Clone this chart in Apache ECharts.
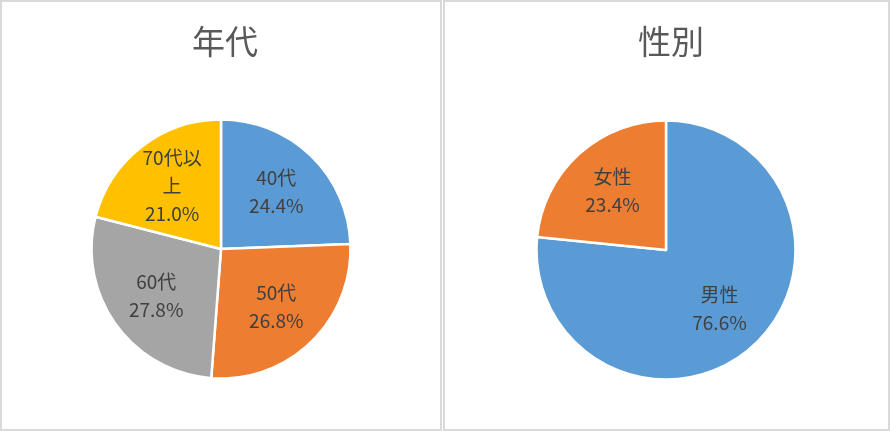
<!DOCTYPE html>
<html><head><meta charset="utf-8">
<script src="https://cdn.jsdelivr.net/npm/echarts@6/dist/echarts.min.js"></script>
<style>html,body{margin:0;padding:0;background:#fff}#c{width:891px;height:433px}</style>
</head><body><div id="c"></div>
<script>
const ageTitle = '年代';
const ageNames = ['40代', '50代', '60代', '70代以上'];
const ageLabels = ['40代', '50代', '60代', '70代以\n上'];
const ageValues = [24.4, 26.8, 27.8, 21.0];
const ageColors = ['#5b9bd5', '#ed7d31', '#a5a5a5', '#ffc000'];

const sexTitle = '性別';
const sexNames = ['男性', '女性'];
const sexLabels = ['男性', '女性'];
const sexValues = [76.6, 23.4];
const sexColors = ['#5b9bd5', '#ed7d31'];

const FONT = '"Noto Sans CJK JP", "Noto Sans", sans-serif';

function mk(names, labels, values, colors) {
  return names.map((n, i) => ({ name: n, value: values[i], lbl: labels[i], itemStyle: { color: colors[i] } }));
}

function pieSeries(data, center) {
  return [
    {
      type: 'pie', center: center, radius: [0, 129.5], startAngle: 90, clockwise: true,
      silent: true, animation: false,
      itemStyle: { borderColor: '#fff', borderWidth: 2.5 },
      label: { show: false }, labelLine: { show: false },
      data: data
    },
    {
      type: 'pie', center: center, radius: [24, 129.5], startAngle: 90, clockwise: true,
      silent: true, animation: false,
      itemStyle: { opacity: 0 },
      label: {
        show: true, position: 'inside', opacity: 1,
        fontFamily: FONT, fontSize: 19, lineHeight: 28, color: '#404040',
        formatter: p => p.data.lbl + '\n' + p.value.toFixed(1) + '%'
      },
      labelLine: { show: false },
      data: data
    }
  ];
}

const chart = echarts.init(document.getElementById('c'), null, { renderer: 'canvas' });
chart.setOption({
  backgroundColor: '#fff',
  title: [
    { text: ageTitle, left: 220, top: 20, textAlign: 'center',
      textStyle: { fontFamily: FONT, fontSize: 33, fontWeight: 'normal', color: '#595959' } },
    { text: sexTitle, left: 666, top: 20, textAlign: 'center',
      textStyle: { fontFamily: FONT, fontSize: 33, fontWeight: 'normal', color: '#595959' } }
  ],
  graphic: [
    { type: 'rect', shape: { x: 1, y: 1, width: 440, height: 429 }, style: { fill: 'none', stroke: '#d9d9d9', lineWidth: 2 }, silent: true },
    { type: 'rect', shape: { x: 444, y: 1, width: 445, height: 429 }, style: { fill: 'none', stroke: '#d9d9d9', lineWidth: 2 }, silent: true }
  ],
  series: [
    ...pieSeries(mk(ageNames, ageLabels, ageValues, ageColors), [221, 249]),
    ...pieSeries(mk(sexNames, sexLabels, sexValues, sexColors), [666, 250])
  ]
});
</script>
</body></html>
